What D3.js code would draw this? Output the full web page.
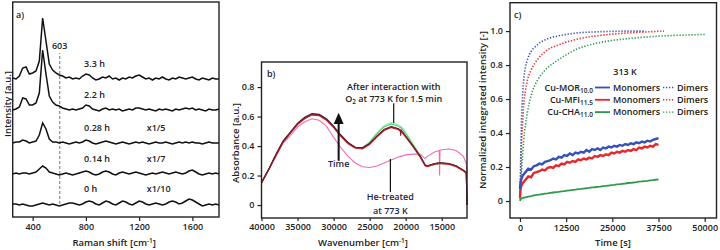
<!DOCTYPE html>
<html>
<head>
<meta charset="utf-8">
<script src="https://cdn.jsdelivr.net/npm/d3@7"></script>
<style>
body { margin: 0; background: #fff; }
svg text { font-family: "Open Sans", sans-serif; font-weight: 600; fill: #222; }
</style>
</head>
<body>
<svg id="fig" width="720" height="250"></svg>
<script>
// ---------- panel a: Raman spectra ----------
var ramanShift = [250,275,300,325,350,375,400,425,450,475,500,525,550,575,600,625,650,675,700,725,
  750,775,800,825,850,875,900,925,950,975,1000,1025,1050,1075,1100,1125,1150,1175,1200,1225,
  1250,1275,1300,1325,1350,1375,1400,1425,1450,1475,1500,1525,1550,1575,1600,1625,1650,1675,1700,1725,
  1750,1775,1800];
var raman33h = [1,0,3,11,12,5,6,8,18,61, 38,15,9,6,4,3,1,2,0,1, 0,3,5,4,1,-1,0,2,1,3,
  0,1,-1,1,0,2,1,3,4,2, 0,1,-1,1,0,2,0,-1,1,0, 2,1,0,1,2,0,-1,1,0,-1, 1,0,0];
var raman22h = [0,1,3,12,11,5,5,7,17,60, 36,14,8,5,4,2,1,0,1,0, 1,2,5,4,1,0,-1,1,2,0,
  1,0,1,-1,0,1,0,2,2,1, 0,1,0,-1,1,0,1,0,-1,1, 0,1,2,1,2,0,1,0,-1,1, 0,0,1];
var raman028h = [0,1,1,3,2,0,1,2,8,20, 14,4,1,1,0,1,0,-1,0,1, 0,1,3,2,0,-1,0,1,2,1,
  0,-1,0,1,0,-1,0,1,0,1, 0,-1,0,1,0,0,1,0,-1,0, 1,0,1,0,1,0,0,-1,0,1, 0,0,0];
var raman014h = [0,1,0,1,1,0,1,2,5,8, 6,2,1,0,-1,0,1,0,-1,0, 1,2,3,2,0,-1,0,2,3,2,
  0,-1,1,2,1,0,1,2,1,0, -1,0,1,0,1,2,1,0,1,2, 1,0,1,3,4,2,0,-1,0,1, 0,1,0];
var raman0h = [0,0,-1,0,-1,-2,-2,-1,0,1, 0,-1,0,-1,-2,-1,0,1,1,0, -1,0,2,3,2,0,-1,1,3,2,
  0,-1,1,3,2,0,-1,1,3,2, 0,-1,0,1,0,-1,0,2,3,2, 0,1,3,5,4,2,0,-2,-1,0, -1,0,-1];
var ramanTraces = [raman0h, raman014h, raman028h, raman22h, raman33h];
var ramanOffsets = [13, 43, 74, 107, 138];
var ramanLabels = ["0 h", "0.14 h", "0.28 h", "2.2 h", "3.3 h"];
var ramanFactors = ["x1/10", "x1/7", "x1/5", "", ""];
var ramanTicks = [400, 800, 1200, 1600];

// ---------- panel b: UV-vis ----------
var uvWn = [40000,39000,38000,37000,36000,35000,34000,33000,32000,31000,30000,29000,28000,27000,26000,25000,
  24000,23000,22000,21000,20750,20700,20650,20000,19000,18000,17300,17000,16000,15350,15300,15250,15000,
  14000,13000,12000,11600,11500];
var uvPink = [.15,.24,.33,.42,.47,.53,.565,.585,.575,.535,.46,.39,.33,.285,.26,.255,.265,.285,.305,.325,
  .33,.33,.33,.34,.345,.345,.315,.33,.36,.37,.2,.37,.375,.38,.37,.33,.28,.22];
var uvGreen = [.15,.24,.34,.43,.49,.55,.59,.615,.61,.58,.53,.47,.42,.39,.388,.425,.485,.53,.55,.535,
  .525,.525,.525,.485,.41,.335,.27,.262,.275,.28,.28,.28,.28,.278,.263,.233,.218,0];
var uvLightGreen = [.15,.24,.34,.43,.49,.55,.59,.615,.61,.58,.53,.47,.42,.39,.39,.43,.49,.54,.56,.545,
  .535,.535,.535,.495,.415,.338,.272,.263,.276,.28,.28,.28,.28,.278,.263,.233,.218,0];
var uvRed = [.15,.24,.335,.425,.485,.545,.585,.61,.605,.575,.525,.465,.415,.385,.38,.41,.46,.505,.525,.51,
  .50,.50,.50,.46,.395,.325,.265,.26,.275,.28,.28,.28,.28,.275,.26,.23,.215,0];
var uvBlack = [.155,.245,.345,.435,.495,.555,.595,.62,.615,.585,.535,.475,.425,.392,.388,.418,.468,.512,.532,.518,
  .508,.508,.508,.468,.402,.332,.272,.267,.282,.287,.287,.287,.287,.282,.267,.237,.222,0];
var uvDarkRed = [.15,.24,.34,.43,.49,.55,.59,.615,.61,.58,.53,.47,.42,.39,.385,.415,.465,.51,.53,.515,
  .505,.47,.505,.465,.40,.33,.27,.265,.28,.285,.285,.285,.285,.28,.265,.235,.22,0];
var uvSeries = [uvPink, uvLightGreen, uvGreen, uvRed, uvBlack, uvDarkRed];
var uvColors = ["#f26bb5", "#9ff0b0", "#4fcf72", "#e8283c", "#222222", "#8e1b2b"];
var uvXTicks = [40000, 35000, 30000, 25000, 20000, 15000];
var uvYTicks = [0, 0.2, 0.4, 0.6, 0.8];

// ---------- panel c: kinetics ----------
var dimerTime = [0,150,300,500,750,1000,1500,2000,3000,4000,5000,7500,10000,12500,15000,20000,25000,30000,34000,39000,45000,50000];
var morDimer = [.02,.2,.38,.53,.64,.71,.79,.83,.88,.905,.925,.955,.97,.98,.988,.995,.998,1.0,1.0,null,null,null];
var mfiDimer = [.02,.12,.25,.37,.47,.56,.65,.71,.77,.81,.84,.89,.915,.935,.95,.97,.982,.99,.995,1.0,null,null];
var chaDimer = [.01,.06,.12,.2,.28,.35,.45,.52,.62,.68,.72,.785,.825,.86,.89,.925,.945,.957,.965,.972,.977,.98];
var monoTime = [0,100,250,500,750,1500,2250,3000,3750,4500,5250,6000,6750,7500,8250,9000,9750,10500,11250,12000,
  12750,13500,14250,15000,15750,16500,17250,18000,18750,19500,20250,21000,21750,22500,23250,24000,24750,25500,
  26250,27000,27750,28500,29250,30000,30750,31500,32250,33000,33750,34500,35250,36000,36750,37500];
var morMono = [.07,.1,.12,.135,.15,.17,.19,.185,.205,.21,.22,.215,.23,.235,.24,.25,.245,.26,.255,.27,.265,.28,.27,.285,
  .28,.29,.285,.3,.29,.305,.3,.31,.3,.315,.31,.32,.315,.325,.32,.33,.325,.335,.33,.34,.335,.345,.34,.35,.345,.355,
  .35,.36,.365,.37];
var mfiMono = [.02,.06,.08,.095,.105,.125,.145,.14,.165,.17,.175,.185,.18,.195,.2,.195,.21,.205,.22,.215,.23,.225,.235,
  .23,.245,.24,.25,.245,.255,.25,.265,.26,.27,.265,.275,.27,.285,.28,.29,.285,.295,.29,.3,.295,.305,.3,.315,.31,.32,
  .315,.325,.32,.335,.33];
var chaMono = [0,.008,.012,.016,.018,.022,.026,.029,.033,.036,.038,.041,.043,.045,.048,.05,.052,.054,.057,.058,.061,
  .063,.065,.067,.07,.071,.073,.075,.077,.08,.081,.083,.085,.088,.089,.091,.093,.095,.098,.099,.101,.103,.106,.107,
  .109,.111,.114,.115,.117,.119,.122,.123,.125,.127];
var zeoNames = ["Cu-MOR", "Cu-MFI", "Cu-CHA"];
var zeoSubs = ["10.0", "11.5", "11.0"];
var zeoColors = ["#3552b8", "#e8262c", "#2f9a4c"];
var kinXTicks = [0, 12500, 25000, 37500, 50000];
var kinYTicks = [0, 0.2, 0.4, 0.6, 0.8, 1.0];

var svg = d3.select("#fig");
var ink = "#222";
var fmtInt = d3.format("d");
var fmtDec = function(d) { return d === 0 ? "0" : d3.format(".1f")(d); };

function frame(x0, y0, x1, y1) {
  svg.append("rect")
    .attr("x", x0).attr("y", y0)
    .attr("width", x1 - x0).attr("height", y1 - y0)
    .attr("fill", "none").attr("stroke", ink).attr("stroke-width", 1.4);
}

function styleAxis(g) {
  g.attr("font-family", null).attr("font-size", 9);
  g.select(".domain").remove();
  g.selectAll(".tick line").attr("stroke", ink).attr("stroke-width", 1.2);
  g.selectAll(".tick text").attr("fill", ink);
}

function label(txt, x, y, opts) {
  opts = opts || {};
  var t = svg.append("text").attr("x", x).attr("y", y)
    .attr("font-size", opts.size || 9)
    .attr("text-anchor", opts.anchor || "start")
    .text(txt);
  if (opts.rotate) t.attr("transform", "rotate(-90," + x + "," + y + ")");
  if (opts.color) t.style("fill", opts.color);
  return t;
}

// axis title ending in [cm-1]
function cmTitle(txt, xEnd, y) {
  label(txt, xEnd, y, {anchor: "end", size: 9.5});
  svg.append("text").attr("x", xEnd).attr("y", y).attr("font-size", 9.5)
    .html('<tspan dy="-3" font-size="6.5">-1</tspan><tspan dy="3">]</tspan>');
}

// ===== panel a =====
var xa = d3.scaleLinear().domain([250, 1800]).range([12.7, 219]);
var ya = d3.scaleLinear().domain([0, 215]).range([217, 2]);

svg.append("line")
  .attr("x1", xa(603)).attr("x2", xa(603))
  .attr("y1", ya(13)).attr("y2", ya(164))
  .attr("stroke", "#999").attr("stroke-width", 1.4).attr("stroke-dasharray", "3,2");
label("603", xa(603), ya(168), {anchor: "middle"});

var lineA = d3.line()
  .x(function(d, i) { return xa(ramanShift[i]); });

ramanTraces.forEach(function(tr, k) {
  lineA.y(function(d) { return ya(d + ramanOffsets[k]); });
  svg.append("path").datum(tr)
    .attr("d", lineA)
    .attr("fill", "none").attr("stroke", "#111").attr("stroke-width", 1.5);
  label(ramanLabels[k], xa(786), ya(ramanOffsets[k] + 12));
  if (ramanFactors[k]) label(ramanFactors[k], xa(1257), ya(ramanOffsets[k] + 12));
});

svg.append("g").attr("transform", "translate(0,217)")
  .call(d3.axisBottom(xa).tickValues(ramanTicks).tickFormat(fmtInt).tickSize(4).tickSizeOuter(0))
  .call(styleAxis);
frame(12.7, 2, 219, 217);
label("a)", 16, 18);
cmTitle("Raman shift [cm", 147, 246);
label("Intensity [a.u.]", 10.5, 104, {anchor: "middle", size: 9.5, rotate: true});

// ===== panel b =====
var xb = d3.scaleLinear().domain([40000, 11500]).range([261.5, 467]);
var yb = d3.scaleLinear().domain([-0.088, 0.97]).range([218, 62]);

var lineB = d3.line().x(function(d, i) { return xb(uvWn[i]); }).y(function(d) { return yb(d); });
uvSeries.forEach(function(s, k) {
  svg.append("path").datum(s)
    .attr("d", lineB)
    .attr("fill", "none").attr("stroke", uvColors[k]).attr("stroke-width", 1.1);
});

svg.append("g").attr("transform", "translate(0,218)")
  .call(d3.axisBottom(xb).tickValues(uvXTicks).tickFormat(fmtInt).tickSize(3).tickSizeOuter(0))
  .call(styleAxis);
svg.append("g").attr("transform", "translate(261.5,0)")
  .call(d3.axisLeft(yb).tickValues(uvYTicks).tickFormat(fmtDec).tickSize(4).tickPadding(3).tickSizeOuter(0))
  .call(styleAxis);
frame(261.5, 62, 467, 218);
label("b)", 267, 77);

// time arrow
var ax = xb(29300);
svg.append("line").attr("x1", ax).attr("x2", ax).attr("y1", yb(0.3)).attr("y2", yb(0.57))
  .attr("stroke", "#111").attr("stroke-width", 2);
svg.append("path")
  .attr("d", "M" + (ax - 5) + "," + yb(0.55) + "L" + ax + "," + yb(0.625) + "L" + (ax + 5) + "," + yb(0.55) + "Z")
  .attr("fill", "#111");
label("Time", ax, yb(0.34) + 12, {anchor: "middle", color: "#1f2547"});

// annotations
var an1 = xb(21667);
svg.append("line").attr("x1", an1).attr("x2", an1).attr("y1", yb(0.69)).attr("y2", yb(0.556))
  .attr("stroke", "#111").attr("stroke-width", 1.2);
label("After interaction with", an1, 90, {anchor: "middle"});
svg.append("text").attr("x", an1).attr("y", 102).attr("font-size", 9).attr("text-anchor", "middle")
  .html('O<tspan dy="2" font-size="6.5">2</tspan><tspan dy="-2"> at 773 K for 1.5 min</tspan>');
var an2 = xb(22125);
svg.append("line").attr("x1", an2).attr("x2", an2).attr("y1", yb(0.312)).attr("y2", yb(0.088))
  .attr("stroke", "#111").attr("stroke-width", 1.2);
label("He-treated", an2, 200, {anchor: "middle", color: "#1f2547"});
label("at 773 K", an2, 214, {anchor: "middle", color: "#1f2547"});

cmTitle("Wavenumber [cm", 399, 246);
label("Absorbance [a.u.]", 239, 143, {anchor: "middle", size: 9.5, rotate: true});

// ===== panel c =====
var xc = d3.scaleLinear().domain([-2700, 53200]).range([510, 716.5]);
var yc = d3.scaleLinear().domain([-0.1, 1.167]).range([218, 2.7]);

var monoSets = [chaMono, mfiMono, morMono];
var dimerSets = [chaDimer, mfiDimer, morDimer];
var order = [2, 1, 0];
order.forEach(function(z, k) {
  svg.append("path").datum(dimerSets[k])
    .attr("d", d3.line().defined(function(d) { return d !== null; })
      .x(function(d, i) { return xc(dimerTime[i]); }).y(function(d) { return yc(d); })
      .curve(d3.curveMonotoneX))
    .attr("fill", "none").attr("stroke", zeoColors[z]).attr("stroke-width", 1.6)
    .attr("stroke-dasharray", "1.3,1.7");
});
order.forEach(function(z, k) {
  svg.append("path").datum(monoSets[k])
    .attr("d", d3.line().x(function(d, i) { return xc(monoTime[i]); }).y(function(d) { return yc(d); }))
    .attr("fill", "none").attr("stroke", zeoColors[z]).attr("stroke-width", z === 2 ? 1.8 : 2.4);
});

svg.append("g").attr("transform", "translate(0,218)")
  .call(d3.axisBottom(xc).tickValues(kinXTicks).tickFormat(fmtInt).tickSize(4).tickSizeOuter(0))
  .call(styleAxis);
svg.append("g").attr("transform", "translate(510,0)")
  .call(d3.axisLeft(yc).tickValues(kinYTicks).tickFormat(fmtDec).tickSize(4).tickPadding(3).tickSizeOuter(0))
  .call(styleAxis);
frame(510, 2.7, 716.5, 218);
label("c)", 514, 18);
label("Time [s]", 613, 246, {anchor: "middle", size: 9.5});
label("Normalized integrated intensity [-]", 486, 110, {anchor: "middle", size: 9.5, rotate: true});

// legend
label("313 K", 625, 75, {anchor: "middle"});
zeoNames.forEach(function(n, i) {
  var yy = 90.5 + i * 12.3;
  svg.append("text").attr("x", 593).attr("y", yy).attr("font-size", 9).attr("text-anchor", "end")
    .html(n + '<tspan dy="2" font-size="6.5">' + zeoSubs[i] + '</tspan>');
  svg.append("line").attr("x1", 595).attr("x2", 610).attr("y1", yy - 3).attr("y2", yy - 3)
    .attr("stroke", zeoColors[i]).attr("stroke-width", 1.8);
  label("Monomers", 613, yy);
  svg.append("line").attr("x1", 663).attr("x2", 675).attr("y1", yy - 3).attr("y2", yy - 3)
    .attr("stroke", zeoColors[i]).attr("stroke-width", 1.4).attr("stroke-dasharray", "1.3,1.7");
  label("Dimers", 677, yy);
});
</script>
</body>
</html>
